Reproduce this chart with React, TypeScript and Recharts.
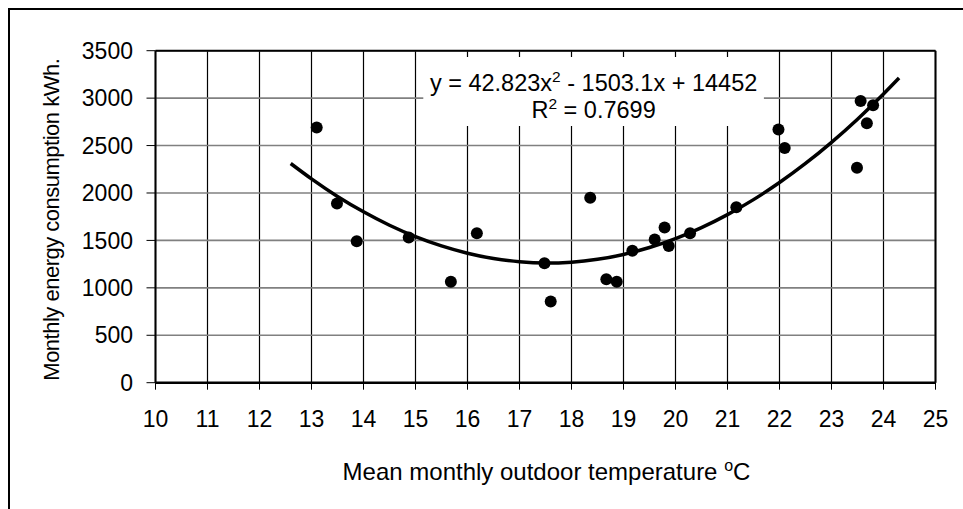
import {
    ComposedChart,
    Scatter,
    Line,
    XAxis,
    YAxis,
    CartesianGrid,
    ReferenceLine,
    ReferenceArea
} from "recharts";

// measured points: mean monthly temperature (°C) vs monthly energy (kWh)
const tempC = [13.1, 13.49, 13.87, 14.87, 15.68, 16.18, 17.48, 17.6, 18.36, 18.67, 18.87, 19.17, 19.6, 19.79, 19.87, 20.28, 21.17, 21.98, 22.1, 23.49, 23.56, 23.68, 23.8];
const energyKWh = [2690, 1890, 1490, 1530, 1065, 1575, 1260, 855, 1950, 1090, 1065, 1390, 1510, 1635, 1440, 1575, 1850, 2670, 2475, 2265, 2970, 2735, 2925];

// trend line
const trendX = [12.6, 13, 13.5, 14, 14.5, 15, 15.5, 16, 16.5, 17, 17.5, 18, 18.5, 19, 19.5, 20, 20.5, 21, 21.5, 22, 22.5, 23, 23.5, 24, 24.3];
const trendY = [2311, 2149, 1964, 1802, 1660, 1540, 1442, 1365, 1309, 1275, 1262, 1271, 1301, 1352, 1425, 1519, 1635, 1772, 1930, 2110, 2311, 2534, 2778, 3044, 3213];

const xTicks = [10, 11, 12, 13, 14, 15, 16, 17, 18, 19, 20, 21, 22, 23, 24, 25];
const yTicks = [0, 500, 1000, 1500, 2000, 2500, 3000, 3500];

const points = tempC.map((x, i) => ({ x, y: energyKWh[i] }));
const trend = trendX.map((x, i) => ({ x, y: trendY[i] }));

const FONT = "'Liberation Sans', Arial, sans-serif";
const FS = 23;

const Dot = (p: any) => <circle cx={p.cx} cy={p.cy} r={6} fill="#000" />;

const EqLabel = (p: any) => {
    const vb = p.viewBox;
    const cx = vb.x + vb.width / 2;
    return (
        <g fontFamily={FONT} fontSize={23.5} fill="#000">
            <text x={cx} y={vb.y + 34} textAnchor="middle">
                y = 42.823x<tspan fontSize={15.5} dy={-9}>2</tspan>
                <tspan dy={9}> - 1503.1x + 14452</tspan>
            </text>
            <text x={cx} y={vb.y + 61} textAnchor="middle">
                R<tspan fontSize={15.5} dy={-9}>2</tspan>
                <tspan dy={9}> = 0.7699</tspan>
            </text>
        </g>
    );
};

const XTitle = (p: any) => {
    const vb = p.viewBox;
    return (
        <text x={vb.x + vb.width / 2 + 1} y={vb.y + 97} textAnchor="middle" fontFamily={FONT} fontSize={24} fill="#000">
            Mean monthly outdoor temperature <tspan fontSize={16} dy={-9}>o</tspan>
            <tspan dy={9}>C</tspan>
        </text>
    );
};

const YTitle = (p: any) => {
    const vb = p.viewBox;
    const cx = 42;
    const cy = vb.y + vb.height / 2 + 3;
    return (
        <text x={cx} y={cy} transform={`rotate(-90, ${cx}, ${cy})`} textAnchor="middle" dominantBaseline="central"
            fontFamily={FONT} fontSize={22} letterSpacing={-0.5} fill="#000">
            Monthly energy consumption kWh.
        </text>
    );
};

export default function App() {
    return (
        <div style={{ position: "absolute", left: 8, top: 8, width: 955, height: 501, borderLeft: "2px solid #000", borderTop: "2px solid #000", boxSizing: "border-box", overflow: "hidden" }}>
            <ComposedChart width={953} height={499} margin={{ top: 40.7, right: 27.5, bottom: 8, left: 0 }}>
                <CartesianGrid horizontal={false} stroke="#000" strokeWidth={1.2} />
                <CartesianGrid vertical={false} stroke="#808080" strokeWidth={1.6} />
                <XAxis
                    type="number"
                    dataKey="x"
                    domain={[10, 25]}
                    ticks={xTicks}
                    interval={0}
                    height={118.3}
                    tickSize={7}
                    tickMargin={21}
                    axisLine={{ stroke: "#000", strokeWidth: 2.5 }}
                    tickLine={{ stroke: "#000" }}
                    tick={{ fill: "#000", fontSize: FS, fontFamily: FONT }}
                    label={(p: any) => <XTitle {...p} />}
                />
                <YAxis
                    type="number"
                    dataKey="y"
                    domain={[0, 3500]}
                    ticks={yTicks}
                    interval={0}
                    width={145.5}
                    tickSize={9}
                    tickMargin={13.5}
                    axisLine={{ stroke: "#000", strokeWidth: 2 }}
                    tickLine={{ stroke: "#000" }}
                    tick={{ fill: "#000", fontSize: FS, fontFamily: FONT }}
                    label={(p: any) => <YTitle {...p} />}
                />
                <ReferenceLine y={3500} stroke="#000" strokeWidth={2} />
                <ReferenceLine x={25} stroke="#000" strokeWidth={2} />
                <ReferenceArea
                    x1={15.15}
                    x2={21.7}
                    y1={2706}
                    y2={3434}
                    fill="#fff"
                    fillOpacity={1}
                    stroke="none"
                    label={(p: any) => <EqLabel {...p} />}
                />
                <Line
                    data={trend}
                    dataKey="y"
                    type="monotone"
                    stroke="#000"
                    strokeWidth={3.5}
                    dot={false}
                    activeDot={false}
                    isAnimationActive={false}
                />
                <Scatter data={points} dataKey="y" shape={Dot} isAnimationActive={false} />
            </ComposedChart>
        </div>
    );
}
